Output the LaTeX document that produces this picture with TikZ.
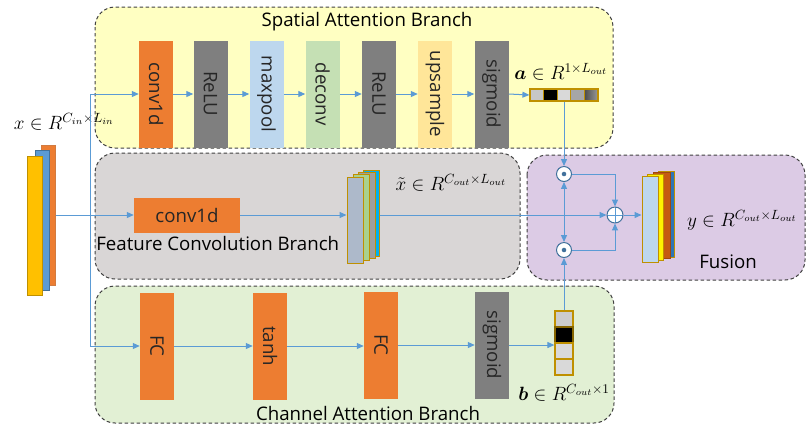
\documentclass[tikz,border=0pt]{standalone}
\usepackage{fontspec}
\setmainfont{Open Sans}
\usepackage{bm}
\usetikzlibrary{arrows.meta}
\definecolor{lblue}{HTML}{5B9BD5}
\definecolor{dblue}{HTML}{41719C}
\definecolor{bgyellow}{HTML}{FFFFC2}
\definecolor{bggray}{HTML}{D9D6D6}
\definecolor{bggreen}{HTML}{E2F0D4}
\definecolor{bgpurple}{HTML}{DCCBE5}
\definecolor{borange}{HTML}{ED7D31}
\definecolor{dorange}{HTML}{C55A11}
\definecolor{bgrey}{HTML}{7F7F7F}
\definecolor{bmax}{HTML}{BDD7EE}
\definecolor{bdec}{HTML}{C5E0B4}
\definecolor{bups}{HTML}{FFE699}
\definecolor{gold}{HTML}{BF9000}
\definecolor{bslate}{HTML}{ADB9CA}
\definecolor{bgreenbar}{HTML}{A9D18E}
\definecolor{bcyan}{HTML}{00B0F0}
\definecolor{byellow}{HTML}{FFC000}
\definecolor{bblue}{HTML}{5B9BD5}
\definecolor{bdkblue}{HTML}{2E75B6}
\newdimen\pxu \pxu=0.75pt
\begin{document}
\begin{tikzpicture}[x=0.75pt,y=-0.75pt,
  font=\fontsize{14}{17}\selectfont,
  branch/.style={draw=black!75, line width=0.75pt, dash pattern=on 2.6pt off 1.9pt, rounded corners=15pt},
  blk/.style={inner sep=0pt, minimum width=34\pxu, minimum height=107\pxu, text=black!85},
  conn/.style={draw=lblue, line width=0.75pt},
  flow/.style={conn, -{Triangle[length=5.2pt,width=4.5pt]}},
  bar/.style={draw=gold, line width=0.75pt, inner sep=0pt, minimum width=16\pxu, minimum height=86\pxu},
  cell/.style={draw=gold, line width=1pt, inner sep=0pt},
  op/.style={circle, draw=dblue, fill=white, line width=0.75pt, minimum size=15\pxu, inner sep=0pt},
  lbl/.style={inner sep=0pt},
  mlbl/.style={inner sep=0pt, font=\fontsize{14.4}{17}\selectfont},
]
\useasboundingbox (0,0) rectangle (806,430);

% branch containers
\path[branch, fill=bgyellow] (95,7) rectangle (613,148);
\path[branch, fill=bggray] (95,153) rectangle (520,279);
\path[branch, fill=bggreen] (95,286) rectangle (614,423);
\path[branch, fill=bgpurple] (527,155) rectangle (805,280);

% titles
\node[lbl] (tsp) at (367,22) {Spatial Attention Branch};
\node[lbl, anchor=west] (tfc) at (96,243) {Feature Convolution Branch};
\node[lbl] (tch) at (368,413) {Channel Attention Branch};
\node[lbl] (tfu) at (728,262) {Fusion};

% input stack
\node[inner sep=0pt, minimum width=14\pxu, minimum height=140\pxu, fill=borange, draw=dorange!80, line width=0.75pt] (in3) at (48,215) {};
\node[inner sep=0pt, minimum width=14\pxu, minimum height=140\pxu, fill=bblue, draw=dblue, line width=0.75pt] (in2) at (42,220) {};
\node[inner sep=0pt, minimum width=15\pxu, minimum height=139\pxu, fill=byellow, draw=gold, line width=0.75pt] (in1) at (34.5,225.5) {};
\node[mlbl] (xin) at (64,122) {$x\in R^{C_{in}\times L_{in}}$};

% spatial branch blocks
\node[blk, fill=borange] (s1) at (156,94) {\rotatebox{-90}{conv1d}};
\node[blk, fill=bgrey] (s2) at (210.5,94) {\rotatebox{-90}{ReLU}};
\node[blk, fill=bmax] (s3) at (266.5,94) {\rotatebox{-90}{maxpool}};
\node[blk, fill=bdec] (s4) at (322.5,94) {\rotatebox{-90}{deconv}};
\node[blk, fill=bgrey] (s5) at (379,94) {\rotatebox{-90}{ReLU}};
\node[blk, fill=bups] (s6) at (435,94) {\rotatebox{-90}{upsample}};
\node[blk, fill=bgrey] (s7) at (491.5,94) {\rotatebox{-90}{sigmoid}};

% a vector
\node[cell, minimum width=13.6\pxu, minimum height=12\pxu, fill=black!22] (a1) at (536.8,95) {};
\node[cell, minimum width=13.6\pxu, minimum height=12\pxu, fill=black] (a2) at (550.4,95) {};
\node[cell, minimum width=13.6\pxu, minimum height=12\pxu, fill=black!15] (a3) at (564,95) {};
\node[cell, minimum width=13.6\pxu, minimum height=12\pxu, fill=black!35] (a4) at (577.6,95) {};
\node[cell, minimum width=13.6\pxu, minimum height=12\pxu, left color=black!70, right color=black!40] (a5) at (591.2,95) {};
\node[mlbl] (alab) at (561,72) {$\bm{a}\in R^{1\times L_{out}}$};

% feature branch
\node[inner sep=0pt, minimum width=106\pxu, minimum height=35\pxu, fill=borange, text=black!85] (fc) at (187,215) {conv1d};
\node[bar, fill=bcyan] (x4) at (371,213.5) {};
\node[bar, minimum width=17\pxu, fill=black!38] (x3) at (366.5,215) {};
\node[bar, fill=bgreenbar] (x2) at (361,217.5) {};
\node[bar, fill=bslate] (x1) at (355,220) {};
\node[mlbl] (xlab) at (451,183) {$\tilde{x}\in R^{C_{out}\times L_{out}}$};

% channel branch blocks
\node[blk, fill=borange] (c1) at (157,346) {\rotatebox{-90}{FC}};
\node[blk, fill=borange] (c2) at (270,346) {\rotatebox{-90}{tanh}};
\node[blk, fill=borange] (c3) at (381,345) {\rotatebox{-90}{FC}};
\node[blk, fill=bgrey] (c4) at (492,345) {\rotatebox{-90}{sigmoid}};

% b vector
\node[cell, minimum width=18\pxu, minimum height=16\pxu, fill=black!20] (b1) at (564,319) {};
\node[cell, minimum width=18\pxu, minimum height=16\pxu, fill=black, line width=1.5pt, draw=gold!70!black] (b2) at (564,335) {};
\node[cell, minimum width=18\pxu, minimum height=16\pxu, fill=black!15] (b3) at (564,351) {};
\node[cell, minimum width=18\pxu, minimum height=16\pxu, fill=black!15] (b4) at (564,367) {};
\node[mlbl] (blab) at (564,393) {$\bm{b}\in R^{C_{out}\times 1}$};

% fusion
\node[op, path picture={\fill[dblue] (path picture bounding box.center) circle (1.7pt);}] (d1) at (564,174) {};
\node[op, path picture={\fill[dblue] (path picture bounding box.center) circle (1.7pt);}] (d2) at (564,250) {};
\node[op, minimum size=16\pxu, path picture={\draw[lblue, line width=0.75pt] (path picture bounding box.north) -- (path picture bounding box.south) (path picture bounding box.west) -- (path picture bounding box.east);}] (pl) at (615,215) {};
\node[bar, fill=bdkblue] (y4) at (666,214) {};
\node[bar, minimum width=17\pxu, fill=dorange, draw=dorange!80!black] (y3) at (661.5,215) {};
\node[bar, fill=yellow] (y2) at (655,217) {};
\node[bar, fill=bmax] (y1) at (650,219.5) {};
\node[mlbl] (ylab) at (742,220) {$y\in R^{C_{out}\times L_{out}}$};

% connectors
\coordinate (sp) at (90,215);
\coordinate (mx) at (564,215);
\draw[flow] (sp) |- (s1.west);
\draw[flow] (sp) |- (c1.west);
\draw[flow] (in3.east) -- (fc.west);
\draw[flow] (s1.east) -- (s2.west);
\draw[flow] (s2.east) -- (s3.west);
\draw[flow] (s3.east) -- (s4.west);
\draw[flow] (s4.east) -- (s5.west);
\draw[flow] (s5.east) -- (s6.west);
\draw[flow] (s6.east) -- (s7.west);
\draw[flow] (s7.east) -- (a1.west);
\draw[flow] (c1.east) -- (c2.west);
\draw[flow] (c2.east) -- (c3.west |- c2.east);
\draw[flow] (c3.east) -- (c4.west);
\draw[flow] (c4.east) -- (c4.east -| b3.west);
\draw[flow] (fc.east) -- (fc.east -| x1.west);
\draw[flow] (x4.east |- mx) -- (pl.west);
\draw[flow] (a3.south) -- (d1.north);
\draw[flow] (b1.north) -- (d2.south);
\draw[flow] (mx) -- (d1.south);
\draw[flow] (mx) -- (d2.north);
\draw[flow] (d1.east) -| (pl.north);
\draw[flow] (d2.east) -| (pl.south);
\draw[flow] (pl.east) -- (pl.east -| y1.west);
\end{tikzpicture}
\end{document}
